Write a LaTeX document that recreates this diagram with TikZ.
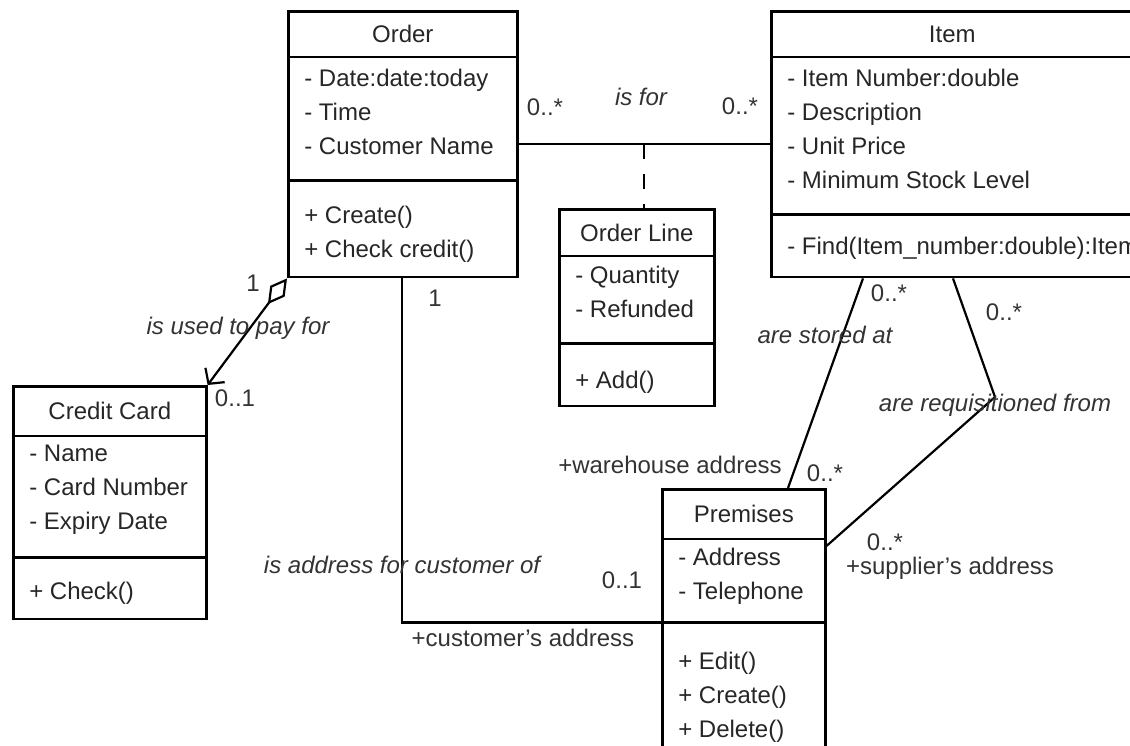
\documentclass[tikz,border=0pt]{standalone}
\usepackage{fontspec}
\setmainfont{Liberation Sans}
\usetikzlibrary{shapes.multipart, arrows.meta}

\newcommand{\diagfont}{\fontsize{24}{34}\selectfont}
\newcommand{\ctitle}[3]{\parbox[c][#2][c]{#1}{\centering #3}}
\newcommand{\crows}[4]{\parbox[c][#2][t]{#1}{\raggedright\leftskip=16pt\vspace*{#3}\strut #4}}

\begin{document}
\begin{tikzpicture}[x=1pt, y=-1pt, font=\diagfont, umlclass/.style={rectangle split, rectangle split parts=3, draw=black, line width=2.6pt, inner sep=0pt, anchor=north west, text=black!85}, assoc/.style={draw=black, line width=2.2pt}, mult/.style={text=black!80}, role/.style={text=black!80}, verb/.style={text=black!80, font=\diagfont\itshape}]

    \useasboundingbox (0,0) rectangle (1130,745);
    \clip (0,0) rectangle (1130,745);

    % Classes
    \node[umlclass] (order)     at (287,10)  {\ctitle{229pt}{43pt}{Order}
        \nodepart{two}\crows{229pt}{121pt}{4.7pt}{- Date:date:today\\- Time\\- Customer Name}
        \nodepart{three}\crows{229pt}{94pt}{17.7pt}{+ Create()\\+ Check credit()}};
    \node[umlclass] (item)      at (770,10)  {\ctitle{362pt}{43pt}{Item}
        \nodepart{two}\crows{362pt}{155pt}{4.7pt}{- Item Number:double\\- Description\\- Unit Price\\- Minimum Stock Level}
        \nodepart{three}\crows{362pt}{60pt}{14.7pt}{\mbox{- Find(Item\_number:double):Item}}};
    \node[umlclass] (card)      at (12,385)  {\ctitle{193pt}{47pt}{Credit Card}
        \nodepart{two}\crows{193pt}{119pt}{0.7pt}{- Name\\- Card Number\\- Expiry Date}
        \nodepart{three}\crows{193pt}{59pt}{16.7pt}{+ Check()}};
    \node[umlclass] (orderline) at (558,208) {\ctitle{155pt}{44pt}{Order Line}
        \nodepart{two}\crows{155pt}{85pt}{2.7pt}{- Quantity\\- Refunded}
        \nodepart{three}\crows{155pt}{60pt}{19.7pt}{+ Add()}};
    \node[umlclass] (premises)  at (661,488) {\ctitle{163pt}{47pt}{Premises}
        \nodepart{two}\crows{163pt}{81pt}{1.7pt}{- Address\\- Telephone}
        \nodepart{three}\crows{163pt}{150pt}{21.7pt}{+ Edit()\\+ Create()\\+ Delete()}};

    % Lines ---------------
    \draw[assoc] (order.east) -- coordinate[pos=0.5] (isfor) (item.west);
    \draw[assoc, dash pattern=on 15pt off 15pt] (isfor) -- (isfor |- orderline.north);
    \draw[assoc, {Diamond[open, length=32pt, width=18pt]}-{Straight Barb[length=11pt, width=24pt]}] (order.south west) -- (card.north east);
    \draw[assoc] ([xshift=115pt]order.south west) |- (premises.two split west);
    \draw[assoc] ([xshift=93pt]item.south west) -- ([xshift=127pt]premises.north west);
    \coordinate (bend) at (995,397);
    \draw[assoc] ([xshift=183pt]item.south west) -- (bend) -- ([yshift=-7pt]premises.text split east);

    % Labels
    \node[mult] (isforl)    at (545,107)  {0..*};
    \node[verb] (isforv)    at (641,97)   {is for};
    \node[mult] (isforr)    at (740,106)  {0..*};
    \node[mult] (payl)      at (253,283)  {1};
    \node[verb] (payv)      at (238,328)  {is used to pay for};
    \node[mult] (payr)      at (235,398)  {0..1};
    \node[mult] (custl)     at (435,298)  {1};
    \node[verb] (custv)     at (402,565)  {is address for customer of};
    \node[mult] (custr)     at (622,580)  {0..1};
    \node[role] (custrole)  at (523,638)  {+customer's address};
    \node[mult] (storel)    at (889,293)  {0..*};
    \node[verb] (storev)    at (825,335)  {are stored at};
    \node[role] (storerole) at (670,465)  {+warehouse address};
    \node[mult] (storer)    at (825,473)  {0..*};
    \node[mult] (reql)      at (1004,312) {0..*};
    \node[verb] (reqv)      at (995,405)  {are requisitioned from};
    \node[mult] (reqr)      at (885,542)  {0..*};
    \node[role] (reqrole)   at (950,568)  {+supplier's address};

\end{tikzpicture}
\end{document}
